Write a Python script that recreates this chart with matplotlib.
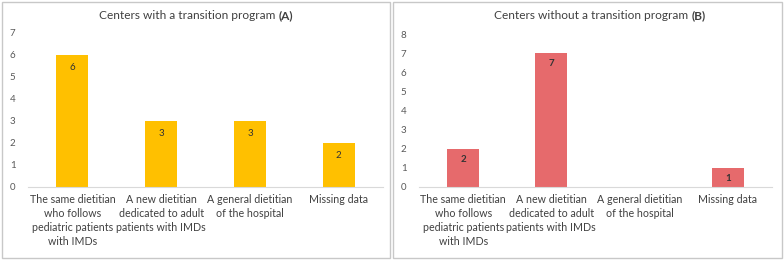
import matplotlib.pyplot as plt
from matplotlib.patches import Rectangle

categories = ['The same dietitian\nwho follows\npediatric patients\nwith IMDs',
              'A new dietitian\ndedicated to adult\npatients with IMDs',
              'A general dietitian\nof the hospital',
              'Missing data']
values_a = [6, 3, 3, 2]
values_b = [2, 7, 0, 1]

plt.rcParams['font.family'] = ['Lato', 'DejaVu Sans']

fig = plt.figure(figsize=(7.84, 2.63), dpi=100)
W, H = 784, 263


def box(x0, y0, x1, y1):
    # pixel coords (top-left origin) -> figure fraction
    return [x0 / W, 1 - y1 / H, (x1 - x0) / W, (y1 - y0) / H]


def draw_title(cx, base_y, plain, tag):
    r = fig.canvas.get_renderer()
    t1 = fig.text(0, 0, plain + ' ', fontsize=8.6, color='#404040', va='baseline')
    t2 = fig.text(0, 0, tag, fontsize=8.6, color='#404040', va='baseline', fontweight='bold')
    w1 = t1.get_window_extent(r).width
    w2 = t2.get_window_extent(r).width
    x0 = cx - (w1 + w2) / 2
    t1.set_position((x0 / W, 1 - base_y / H))
    t2.set_position(((x0 + w1) / W, 1 - base_y / H))


def draw_panel(rect, border, values, ymax, color, title, tag, title_x, bold_labels):
    fig.patches.append(Rectangle((border[0] / W, 1 - border[3] / H),
                                 (border[2] - border[0]) / W, (border[3] - border[1]) / H,
                                 transform=fig.transFigure, fill=False,
                                 edgecolor='#c8c8c8', linewidth=1.0))
    ax = fig.add_axes(box(*rect))
    x = range(len(values))
    bars = ax.bar(x, values, width=0.36, color=color)
    for b, v in zip(bars, values):
        if v > 0:
            ax.text(b.get_x() + b.get_width() / 2, v - 0.55, str(v), ha='center', va='center',
                    fontsize=7, color='#333333', fontweight='bold' if bold_labels else 'normal')
    ax.set_xlim(-0.5, len(values) - 0.5)
    ax.set_ylim(0, ymax)
    ax.set_yticks(range(ymax + 1))
    ax.set_xticks(list(x))
    ax.set_xticklabels(categories, fontsize=7.7, color='#404040', linespacing=1.35)
    ax.tick_params(axis='x', length=0, pad=5)
    ax.tick_params(axis='y', length=0, labelsize=7, labelcolor='#595959', pad=9)
    for s in ['top', 'right', 'left']:
        ax.spines[s].set_visible(False)
    ax.spines['bottom'].set_color('#d9d9d9')
    draw_title(title_x, 19, title, '(' + tag + ')')
    return ax


draw_panel((28, 33, 383, 187), (2, 2, 390, 258), values_a, 7, '#ffc000',
           'Centers with a transition program', 'A', 196, False)
draw_panel((419, 34, 772, 187), (393, 2, 782, 258), values_b, 8, '#e66a6c',
           'Centers without a transition program', 'B', 600, True)

fig.savefig('out.png', dpi=100)
